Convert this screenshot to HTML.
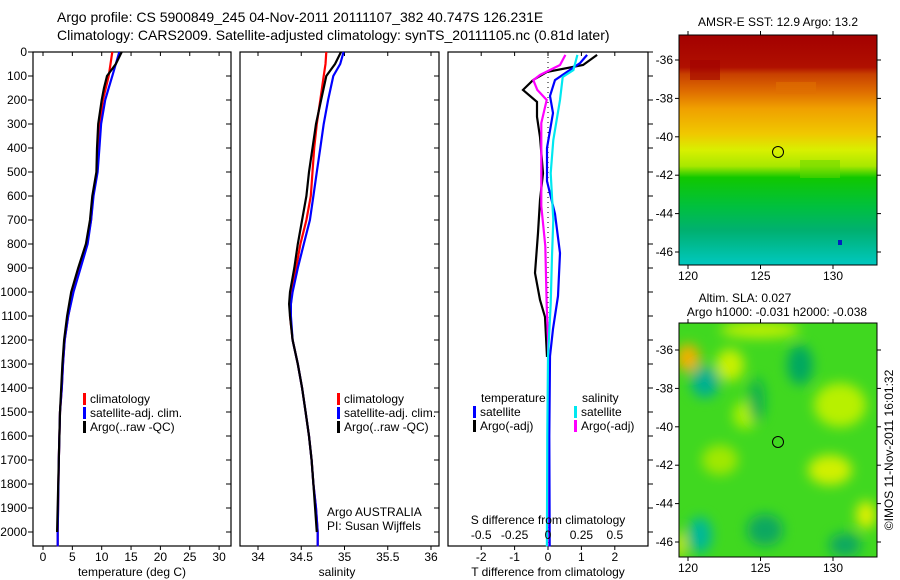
<!DOCTYPE html>
<html><head><meta charset="utf-8"><style>
body{margin:0;background:#fff}
svg{display:block;font-family:"Liberation Sans","DejaVu Sans",sans-serif}
text{fill:#000}
</style></head><body>
<svg id="fig" width="900" height="580" viewBox="0 0 900 580">
<defs>
<linearGradient id="sstg" x1="0" y1="0" x2="0" y2="1">
<stop offset="0" stop-color="#a30000"/><stop offset="0.14" stop-color="#b01000"/>
<stop offset="0.17" stop-color="#c84000"/><stop offset="0.25" stop-color="#e07000"/>
<stop offset="0.32" stop-color="#f0a000"/><stop offset="0.43" stop-color="#f0c800"/>
<stop offset="0.5" stop-color="#d8f000"/><stop offset="0.57" stop-color="#a8e800"/>
<stop offset="0.62" stop-color="#10c800"/><stop offset="0.75" stop-color="#00c040"/>
<stop offset="0.85" stop-color="#00b070"/><stop offset="1" stop-color="#00c8c0"/>
</linearGradient>
<filter id="blur"><feGaussianBlur stdDeviation="6"/></filter>
<clipPath id="slaclip"><rect x="679" y="323" width="198" height="234"/></clipPath>
</defs>
<text x="57" y="22" font-size="14">Argo profile: CS 5900849_245 04-Nov-2011 20111107_382 40.747S 126.231E</text>
<text x="57" y="40" font-size="14">Climatology: CARS2009. Satellite-adjusted climatology: synTS_20111105.nc (0.81d later)</text>
<g id="g1"></g><g id="g2"></g><g id="g3"></g>

<g>
<text x="778" y="26" font-size="12" text-anchor="middle">AMSR-E SST: 12.9 Argo: 13.2</text>
<rect x="679" y="35" width="198" height="230" fill="url(#sstg)"/>
<rect x="776" y="82" width="40" height="12" fill="#e07000" opacity="0.6"/>
<rect x="690" y="60" width="30" height="20" fill="#a00000" opacity="0.6"/>
<rect x="800" y="160" width="40" height="18" fill="#60d800" opacity="0.5"/>
<rect x="838" y="240" width="4" height="5" fill="#0020c0"/>
<circle cx="778" cy="152" r="5.5" fill="none" stroke="#000" stroke-width="1"/>
<rect x="679" y="35" width="198" height="230" fill="none" stroke="#000"/>
<g id="sstaxis"></g>
</g>
<g>
<text x="745" y="302" font-size="12" text-anchor="middle">Altim. SLA: 0.027</text>
<text x="777" y="316" font-size="12" text-anchor="middle">Argo h1000: -0.031 h2000: -0.038</text>
<g clip-path="url(#slaclip)">
<rect x="679" y="323" width="198" height="234" fill="#40d820"/>
<g filter="url(#blur)">
<ellipse cx="688" cy="358" rx="12" ry="14" fill="#f0b000"/>
<ellipse cx="730" cy="365" rx="14" ry="16" fill="#c8f000"/>
<ellipse cx="705" cy="382" rx="14" ry="16" fill="#00b090"/>
<ellipse cx="800" cy="365" rx="13" ry="20" fill="#00a860"/>
<ellipse cx="760" cy="330" rx="40" ry="8" fill="#c0f000"/>
<ellipse cx="840" cy="405" rx="26" ry="22" fill="#b8f000"/>
<ellipse cx="745" cy="415" rx="12" ry="14" fill="#a8f000"/>
<ellipse cx="757" cy="400" rx="8" ry="22" fill="#10b050"/>
<ellipse cx="830" cy="470" rx="22" ry="15" fill="#d0f000"/>
<ellipse cx="720" cy="460" rx="18" ry="15" fill="#a0e800"/>
<ellipse cx="700" cy="535" rx="12" ry="18" fill="#00b898"/>
<ellipse cx="765" cy="530" rx="18" ry="16" fill="#10a860"/>
<ellipse cx="866" cy="515" rx="10" ry="14" fill="#e0f000"/>
<ellipse cx="845" cy="545" rx="16" ry="12" fill="#10a860"/>
<ellipse cx="680" cy="545" rx="5" ry="14" fill="#e0e800"/>
</g></g>
<circle cx="778" cy="442" r="5.5" fill="none" stroke="#000" stroke-width="1"/>
<rect x="679" y="323" width="198" height="234" fill="none" stroke="#000"/>
<g id="slaaxis"></g>
</g>
<text transform="translate(893,450) rotate(-90)" font-size="12" text-anchor="middle">©IMOS 11-Nov-2011 16:01:32</text>
</svg>
<script>
const tempDepths = [0,50,100,150,200,300,400,500,600,700,800,900,1000,1100,1200,1300,1400,1500,1700,2000,2060];
const tempClim   = [11.8,11.5,11.2,10.7,10.2,9.7,9.4,9.2,8.5,8.2,7.5,6.3,5.1,4.3,3.7,3.4,3.2,2.9,2.7,2.5,2.5];
const tempSat    = [13.0,12.4,11.8,11.2,10.6,9.9,9.6,9.3,8.6,8.2,7.6,6.4,5.2,4.3,3.7,3.4,3.2,2.9,2.7,2.5,2.5];
const tempArgo   = [13.4,12.4,10.9,10.4,10.0,9.4,9.2,9.1,8.4,8.0,7.3,6.0,4.8,4.1,3.6,3.3,3.1,2.9,2.7,2.4];
const salDepths  = [0,50,100,200,300,400,500,600,700,800,900,1000,1050,1100,1200,1300,1400,1500,1600,1700,1800,1900,2000,2060];
const salClim    = [34.79,34.78,34.76,34.72,34.68,34.65,34.63,34.61,34.56,34.49,34.44,34.39,34.38,34.37,34.40,34.46,34.51,34.55,34.59,34.62,34.64,34.67,34.69,34.69];
const salSat     = [34.99,34.95,34.87,34.81,34.76,34.72,34.68,34.64,34.60,34.53,34.46,34.40,34.38,34.38,34.40,34.46,34.51,34.55,34.59,34.62,34.64,34.67,34.69,34.69];
const salArgo    = [34.96,34.89,34.79,34.73,34.67,34.63,34.59,34.56,34.51,34.46,34.42,34.37,34.36,34.37,34.40,34.46,34.51,34.55,34.59,34.62,34.64,34.66,34.68];
const dTArgoDepths = [12,54,83,117,158,208,270,354,505,617,754,921,1033,1104,1271];
const dTArgo       = [1.47,1.05,-0.03,-0.45,-0.75,-0.33,-0.33,-0.24,-0.15,-0.24,-0.30,-0.39,-0.24,-0.09,-0.03];
const dTSatDepths  = [12,46,117,183,254,400,538,675,838,1017,1154,1267,1600,2060];
const dTSat        = [1.17,0.96,0.21,0.06,0.15,-0.03,-0.03,0.21,0.36,0.30,0.15,0.06,0.04,0.05];
const dSSatDepths  = [12,75,104,200,367,505,700,850,1050,1267,1600,2060];
const dSSat        = [0.22,0.19,0.11,0.09,0.04,0.02,0.04,0.03,0.02,0.0,-0.005,-0.008];
const dSArgoDepths = [12,54,96,117,158,200,296,463,642,808,1058,1196,1600,2060];
const dSArgo       = [0.13,0.09,-0.06,-0.11,-0.08,-0.01,-0.05,-0.05,-0.05,-0.02,-0.01,0.0,0.005,0.01];
const depthTicks = [0,100,200,300,400,500,600,700,800,900,1000,1100,1200,1300,1400,1500,1600,1700,1800,1900,2000];
const tempTicks = [0,5,10,15,20,25,30];
const salTicks = [34,34.5,35,35.5,36];
const salTickLabels = ["34","34.5","35","35.5","36"];
const dTTicks = [-2,-1,0,1,2];
const dSTickLabels = ["-0.5","-0.25","0","0.25","0.5"];
const dSTicks = [-0.5,-0.25,0,0.25,0.5];
const latTicks = [-36,-38,-40,-42,-44,-46];
const lonTicks = [120,125,130];

const NS="http://www.w3.org/2000/svg";
function mk(tag,attrs,parent,txt){const e=document.createElementNS(NS,tag);for(const k in attrs)e.setAttribute(k,attrs[k]);if(txt!==undefined)e.textContent=txt;parent.appendChild(e);return e;}
const pTop=52, pBot=546;
const yD = d => pTop + d*0.24;
function frame(g,x0,x1,name){
  const r=mk('rect',{x:x0,y:pTop,width:x1-x0,height:pBot-pTop,fill:'none',stroke:'#000','stroke-width':1.2},g);
  
  
}
function line(g,xs,ds,xf,color,name){
  const pts=xs.map((v,i)=>xf(v).toFixed(1)+','+yD(ds[i]).toFixed(1)).join(' ');
  const p=mk('polyline',{points:pts,fill:'none',stroke:color,'stroke-width':2.2},g);
  
  
}
function xticks(g,ticks,labels,xf,ly){
  ticks.forEach((t,i)=>{
    const x=xf(t);
    mk('line',{x1:x,y1:pBot,x2:x,y2:pBot+4,stroke:'#000'},g);
    mk('line',{x1:x,y1:pTop,x2:x,y2:pTop+4,stroke:'#000'},g);
    const tx=mk('text',{x:x,y:ly,'font-size':12,'text-anchor':'middle'},g,labels[i]);
    
    
  });
}
function dticks(g,x1,outward){
  depthTicks.forEach(d=>{const y=yD(d);mk('line',{x1:x1,y1:y,x2:outward?x1+5:x1-5,y2:y,stroke:'#000'},g);});
}
function legend(g,x,y,items){
  items.forEach((it,i)=>{
    mk('rect',{x:x,y:y+i*14-10,width:3,height:12,fill:it[1]},g);
    const t=mk('text',{x:x+7,y:y+i*14,'font-size':12},g,it[0]);
    
    
  });
}
function label(g,x,y,txt,anchor,name){
  const t=mk('text',{x:x,y:y,'font-size':12,'text-anchor':anchor},g,txt);
  
  
  return t;
}

const g1=document.getElementById('g1');


const xT = t => 43 + t*5.87;
frame(g1,33,231,'temperature-frame');
depthTicks.forEach(d=>{const y=yD(d);mk('line',{x1:28,y1:y,x2:33,y2:y,stroke:'#000'},g1);
  label(g1,27,y+4,String(d),'end','depth-tick-label');});
dticks(g1,231,false);
xticks(g1,tempTicks,tempTicks.map(String),xT,561);
line(g1,tempClim,tempDepths,xT,'#ff0000','temp-climatology-line');
line(g1,tempSat,tempDepths,xT,'#0000ff','temp-satellite-line');
line(g1,tempArgo,tempDepths,xT,'#000000','temp-argo-line');
legend(g1,83,403,[['climatology','#ff0000'],['satellite-adj. clim.','#0000ff'],['Argo(..raw -QC)','#000000']]);
label(g1,132,576,'temperature (deg C)','middle','temperature-axis-title');

const g2=document.getElementById('g2');


const xS = s => 258 + (s-34)*86.5;
frame(g2,240,439,'salinity-frame');
dticks(g2,439,false);
xticks(g2,salTicks,salTickLabels,xS,561);
line(g2,salClim,salDepths,xS,'#ff0000','sal-climatology-line');
line(g2,salSat,salDepths,xS,'#0000ff','sal-satellite-line');
line(g2,salArgo,salDepths,xS,'#000000','sal-argo-line');
legend(g2,337,403,[['climatology','#ff0000'],['satellite-adj. clim.','#0000ff'],['Argo(..raw -QC)','#000000']]);
label(g2,327,516,'Argo AUSTRALIA','start','argo-australia-label');
label(g2,327,530,'PI: Susan Wijffels','start','pi-label');
label(g2,337,576,'salinity','middle','salinity-axis-title');

const g3=document.getElementById('g3');


const xdT = v => 548 + v*33.4;
const xdS = v => 548 + v*133.6;
frame(g3,448,648,'difference-frame');
dticks(g3,648,true);
xticks(g3,dTTicks,dTTicks.map(String),xdT,561);
const zl=mk('line',{x1:xdT(0),y1:pTop,x2:xdT(0),y2:pBot,stroke:'#000','stroke-dasharray':'1,4'},g3);


line(g3,dTArgo,dTArgoDepths,xdT,'#000000','dT-argo-line');
line(g3,dSArgo,dSArgoDepths,xdS,'#ff00ff','dS-argo-line');
line(g3,dTSat,dTSatDepths,xdT,'#0000ff','dT-satellite-line');
line(g3,dSSat,dSSatDepths,xdS,'#00e8f0','dS-satellite-line');
label(g3,481,402,'temperature','start','legend-temperature-heading');
label(g3,582,402,'salinity','start','legend-salinity-heading');
legend(g3,473,416,[['satellite','#0000ff'],['Argo(-adj)','#000000']]);
legend(g3,574,416,[['satellite','#00e8f0'],['Argo(-adj)','#ff00ff']]);
label(g3,548,524,'S difference from climatology','middle','s-diff-axis-title');
dSTicks.forEach((v,i)=>{label(g3,xdS(v),539,dSTickLabels[i],'middle','s-diff-tick-label');});
label(g3,548,576,'T difference from climatology','middle','t-diff-axis-title');

function mapAxes(gid,y0,y1,latY0){
  const g=document.getElementById(gid);
  latTicks.forEach(l=>{const y=latY0+(-36-l)*19.2;
    mk('line',{x1:675,y1:y,x2:679,y2:y,stroke:'#000'},g);
    mk('line',{x1:877,y1:y,x2:881,y2:y,stroke:'#000'},g);
    label(g,673,y+4,String(l),'end','lat-tick-label');});
  lonTicks.forEach(l=>{const x=688+(l-120)*14.5;
    mk('line',{x1:x,y1:y0-4,x2:x,y2:y0,stroke:'#000'},g);
    mk('line',{x1:x,y1:y1,x2:x,y2:y1+4,stroke:'#000'},g);
    label(g,x,y1+15,String(l),'middle','lon-tick-label');});
}
mapAxes('sstaxis',35,265,60);
mapAxes('slaaxis',323,557,350);
</script>
</body></html>
